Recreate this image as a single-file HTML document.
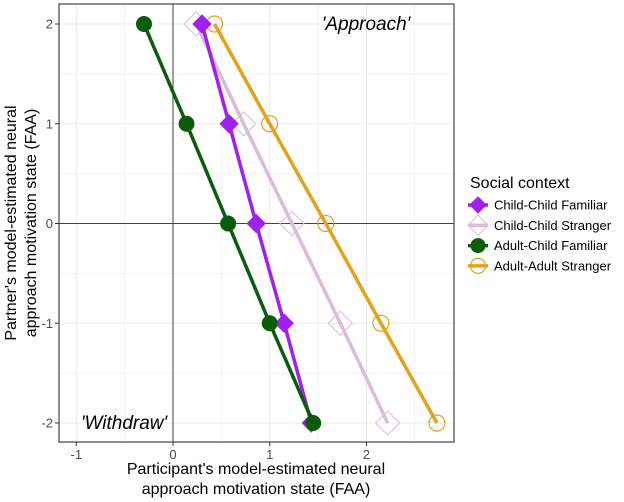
<!DOCTYPE html>
<html><head><meta charset="utf-8"><style>
body{margin:0;background:#fff}
svg{display:block;font-family:"Liberation Sans",Arial,sans-serif}
</style></head><body>
<svg id="chart" width="624" height="502" viewBox="0 0 624 502">
<g id="grid"></g>
<g id="series"></g>
<g id="axes"></g>
<text x="366" y="30" font-size="19" font-style="italic" text-anchor="middle" fill="#000">'Approach'</text>
<text x="124" y="429" font-size="19" font-style="italic" text-anchor="middle" fill="#000">'Withdraw'</text>
<text text-anchor="middle" font-size="16" fill="#000"><tspan x="256" y="474">Participant's model-estimated neural</tspan><tspan x="256" y="494">approach motivation state (FAA)</tspan></text>
<text text-anchor="middle" font-size="16" fill="#000" transform="translate(0,223) rotate(-90)"><tspan x="0" y="16">Partner's model-estimated neural</tspan><tspan x="0" y="36">approach motivation state (FAA)</tspan></text>
<g id="legend"><text x="470" y="188" font-size="16" fill="#000">Social context</text></g>
</svg>
<script>
const yLevels=[2,1,0,-1,-2];
const seriesNames=["Child-Child Familiar","Child-Child Stranger","Adult-Child Familiar","Adult-Adult Stranger"];
const ccFamiliarX=[0.30,0.58,0.86,1.15,1.43];
const ccStrangerX=[0.24,0.73,1.23,1.73,2.22];
const acFamiliarX=[-0.30,0.14,0.57,1.00,1.45];
const aaStrangerX=[0.43,1.00,1.58,2.15,2.73];
const xTicks=[-1,0,1,2];
const yTicks=[-2,-1,0,1,2];
const NS="http://www.w3.org/2000/svg";
const L=59,R=454,T=4,B=442;
const sx=v=>173+v*96.7, sy=v=>223.5-v*99.75;
function mk(p,tag,a){const e=document.createElementNS(NS,tag);for(const k in a)e.setAttribute(k,a[k]);p.appendChild(e);return e;}
const grid=document.getElementById('grid'),axes=document.getElementById('axes'),ser=document.getElementById('series'),leg=document.getElementById('legend');
mk(grid,'rect',{x:L,y:T,width:R-L,height:B-T,fill:'#fff'});
for(let v=-1;v<=2.5;v+=0.5){const g=mk(grid,'line',{x1:sx(v),x2:sx(v),y1:T,y2:B,stroke:'#ebebeb','stroke-width':Number.isInteger(v)?1.1:0.6});

}
for(let v=-2;v<=2;v+=0.5){const g=mk(grid,'line',{y1:sy(v),y2:sy(v),x1:L,x2:R,stroke:'#ebebeb','stroke-width':Number.isInteger(v)?1.1:0.6});

}
const z1=mk(grid,'line',{x1:sx(0),x2:sx(0),y1:T,y2:B,stroke:'#444','stroke-width':1});


const z2=mk(grid,'line',{y1:sy(0),y2:sy(0),x1:L,x2:R,stroke:'#444','stroke-width':1});


const frame=mk(axes,'rect',{x:L,y:T,width:R-L,height:B-T,fill:'none',stroke:'#333','stroke-width':1.1});


xTicks.forEach(v=>{mk(axes,'line',{x1:sx(v),x2:sx(v),y1:B,y2:B+4,stroke:'#333'});
const t=mk(axes,'text',{x:sx(v),y:B+17,'font-size':13,'text-anchor':'middle',fill:'#4d4d4d'});t.textContent=v;

});
yTicks.forEach(v=>{mk(axes,'line',{x1:L-4,x2:L,y1:sy(v),y2:sy(v),stroke:'#333'});
const t=mk(axes,'text',{x:L-6,y:sy(v)+4.5,'font-size':13,'text-anchor':'end',fill:'#4d4d4d'});t.textContent=v;

});
function marker(p,kind,cx,cy,color,big){
 if(kind==='diamond'){const s=big||9;return mk(p,'polygon',{points:`${cx},${cy-s} ${cx+s},${cy} ${cx},${cy+s} ${cx-s},${cy}`,fill:color,stroke:color,'stroke-width':1});}
 if(kind==='odiamond'){const s=big||12;return mk(p,'polygon',{points:`${cx},${cy-s} ${cx+s},${cy} ${cx},${cy+s} ${cx-s},${cy}`,fill:'none',stroke:color,'stroke-width':1});}
 if(kind==='circle')return mk(p,'circle',{cx,cy,r:big||8,fill:color});
 return mk(p,'circle',{cx,cy,r:big||8,fill:'none',stroke:color,'stroke-width':1.2});
}
const specs=[
 {xs:ccStrangerX,color:'#d8bcd8',kind:'odiamond',slug:'child-child-stranger'},
 {xs:aaStrangerX,color:'#e0a31a',kind:'ocircle',slug:'adult-adult-stranger'},
 {xs:ccFamiliarX,color:'#a020f0',kind:'diamond',slug:'child-child-familiar'},
 {xs:acFamiliarX,color:'#0a5c0a',kind:'circle',slug:'adult-child-familiar'}
];
specs.forEach(s=>{
 const g=mk(ser,'g',{});
 
 
 const ln=mk(g,'polyline',{points:s.xs.map((x,i)=>sx(x)+','+sy(yLevels[i])).join(' '),fill:'none',stroke:s.color,'stroke-width':3.5});
 
 
 s.xs.forEach((x,i)=>{const m=marker(g,s.kind,sx(x),sy(yLevels[i]),s.color);
 
 });
});
const legSpecs=[['diamond','#a020f0',seriesNames[0]],['odiamond','#d8bcd8',seriesNames[1]],['circle','#0a5c0a',seriesNames[2]],['ocircle','#e0a31a',seriesNames[3]]];
legSpecs.forEach((l,i)=>{
 const cy=205+i*20.3,g=mk(leg,'g',{});
 
 
 mk(g,'line',{x1:468,x2:488,y1:cy,y2:cy,stroke:l[1],'stroke-width':3.5});
 marker(g,l[0],478,cy,l[1],l[0]==='odiamond'?10:(l[0]==='diamond'?8:7.5));
 const t=mk(g,'text',{x:494,y:cy+4.5,'font-size':13,fill:'#000'});t.textContent=l[2];
});
</script>
</body></html>
